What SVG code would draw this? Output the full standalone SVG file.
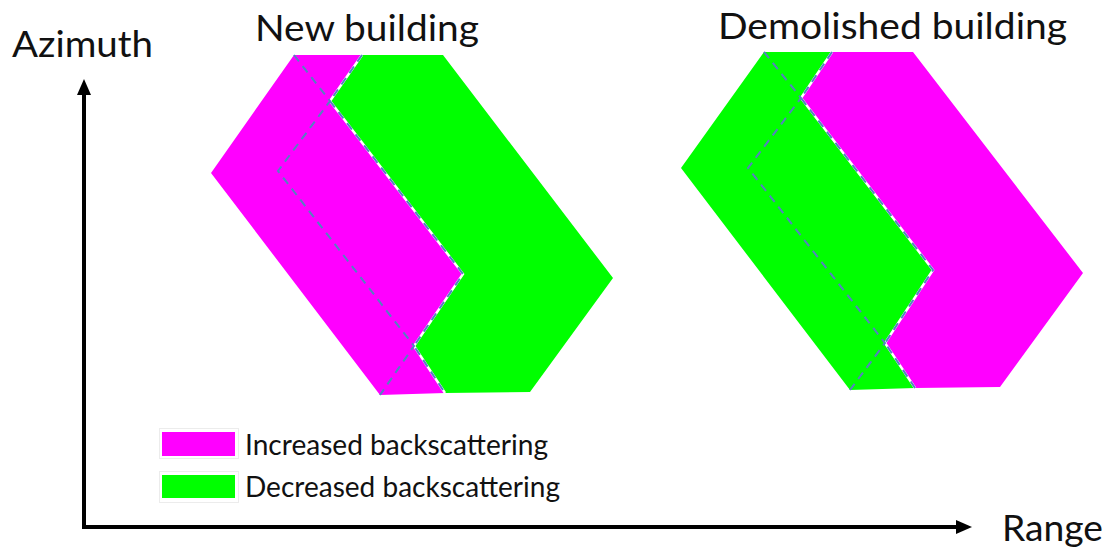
<svg xmlns="http://www.w3.org/2000/svg" width="1110" height="547" viewBox="0 0 1110 547">
<style>
.inc{fill:#ff00ff;stroke:none}
.dec{fill:#00ff00;stroke:none}
.dash{fill:none;stroke:#5580c0;stroke-width:2;stroke-dasharray:8 6}
.edge{fill:none;stroke:#ffffff;stroke-width:2.4;stroke-linejoin:miter}
.axis{fill:none;stroke:#000;stroke-width:4}
.title{font-family:Lato,"Liberation Sans",sans-serif;font-size:37px;fill:#111}
.leg{font-family:Lato,"Liberation Sans",sans-serif;font-size:28px;fill:#111}
.legbox{fill:none;stroke:#ececec;stroke-width:1}
</style>
<defs>
<marker id="arrow" markerUnits="userSpaceOnUse" markerWidth="16" markerHeight="14" refX="2" refY="7" orient="auto">
<path d="M0,0 L16,7 L0,14 Z" fill="#000"/>
</marker>
</defs>
<rect width="1110" height="547" fill="#fff"/>

<g id="connectors">
<line class="axis" x1="84" y1="529" x2="84" y2="93" marker-end="url(#arrow)"/>
<line class="axis" x1="82" y1="527" x2="958" y2="527" marker-end="url(#arrow)"/>
</g>

<g id="axis-labels">
<text class="title" x="12" y="57" textLength="141" lengthAdjust="spacingAndGlyphs">Azimuth</text>
<text class="title" x="1002" y="541" textLength="101" lengthAdjust="spacingAndGlyphs">Range</text>
</g>

<g id="new-building">
<text class="title" x="255" y="41" textLength="224" lengthAdjust="spacingAndGlyphs">New building</text>
<polygon class="inc" points="294,55 362,55 330,101 463,274 414,346 445,393 380,395 211,173"/>
<polygon class="dec" points="362,55 443,55 613,278 530,392 445,393 414,346 463,274 330,101"/>
<path class="edge" d="M362,55 L330,101 L463,274 L414,346 L445,393"/>
<path class="dash" d="M362,55 L330,101 L463,274 L414,346 L445,393"/>
<path class="dash" d="M294,55 L330,101 L278,171 L414,346 L380,395"/>
</g>

<g id="demolished-building">
<text class="title" x="718" y="39" textLength="349" lengthAdjust="spacingAndGlyphs">Demolished building</text>
<polygon class="dec" points="764,52 832,52 801,98 933,270 885,343 915,388 850,390 681,168"/>
<polygon class="inc" points="832,52 913,52 1083,273 1000,387 915,388 885,343 933,270 801,98"/>
<path class="edge" d="M832,52 L801,98 L933,270 L885,343 L915,388"/>
<path class="dash" d="M832,52 L801,98 L933,270 L885,343 L915,388"/>
<path class="dash" d="M764,52 L801,98 L748,168 L885,343 L850,390"/>
</g>

<g id="legend-increased">
<rect class="legbox" x="159.5" y="428.5" width="79" height="30"/>
<rect class="inc" x="162" y="432" width="73" height="24"/>
<text class="leg" x="245" y="455" textLength="303" lengthAdjust="spacingAndGlyphs">Increased backscattering</text>
</g>

<g id="legend-decreased">
<rect class="legbox" x="159.5" y="471.5" width="79" height="31"/>
<rect class="dec" x="162" y="475" width="73" height="23"/>
<text class="leg" x="245" y="497" textLength="315" lengthAdjust="spacingAndGlyphs">Decreased backscattering</text>
</g>
</svg>
